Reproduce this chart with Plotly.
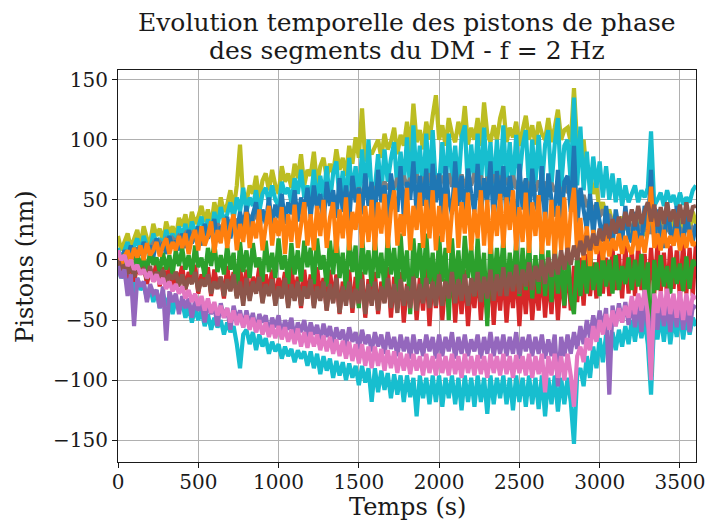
import plotly.graph_objects as go

# Time stamps (s), one sample every 20 s
temps = list(range(0, 3601, 20))

# Piston values (nm), per segment colour (20 values per 400 s)
olive = [20, 8, 15, 22, 10, 18, 25, 12, 28, 18, 14, 30, 20, 26, 15, 32, 22, 28, 18, 35,
         28, 38, 24, 40, 30, 36, 45, 32, 42, 28, 48, 36, 52, 40, 46, 58, 42, 62, 96, 50,
         48, 62, 55, 70, 50, 66, 72, 58, 75, 62, 55, 78, 65, 72, 60, 80, 68, 88, 62, 75,
         70, 90, 62, 78, 85, 68, 80, 72, 92, 75, 85, 70, 95, 80, 102, 85, 126, 82, 92, 88,
         95, 100, 85, 105, 92, 98, 110, 88, 104, 95, 115, 90, 130, 98, 108, 92, 115, 100, 120, 137,
         100, 112, 95, 118, 105, 98, 115, 102, 128, 96, 110, 100, 118, 95, 131, 105, 98, 112, 100, 118,
         128, 98, 110, 102, 115, 95, 108, 120, 100, 112, 96, 115, 105, 100, 118, 98, 110, 125, 100, 108,
         110, 98, 143, 95, 85, 100, 70, 75, 55, 62, 40, 48, 35, 42, 30, 38, 28, 36, 25, 34,
         22, 32, 26, 38, 20, 30, 28, 40, 24, 35, 22, 30, 26, 38, 20, 34, 24, 36, 22, 40,
         30]

cyan_haut = [10, 0, 8, 15, 4, 12, 18, 6, 20, 12, 8, 22, 14, 18, 10, 25, 16, 22, 12, 28,
             20, 30, 16, 32, 24, 28, 36, 22, 34, 20, 40, 28, 44, 32, 38, 48, 34, 52, 40, 60,
             40, 52, 45, 58, 40, 55, 60, 48, 62, 50, 45, 65, 55, 60, 48, 68, 55, 75, 52, 62,
             50, 75, 45, 70, 52, 78, 48, 72, 82, 50, 74, 46, 85, 55, 78, 48, 92, 52, 100, 55,
             60, 88, 55, 92, 65, 84, 98, 58, 90, 62, 102, 56, 112, 65, 95, 58, 105, 62, 108, 60,
             62, 98, 58, 105, 68, 95, 60, 102, 112, 58, 96, 65, 105, 60, 110, 66, 98, 58, 100, 64,
             112, 62, 98, 60, 104, 66, 95, 108, 58, 100, 64, 104, 60, 96, 108, 62, 96, 118, 60, 95,
             100, 65, 135, 62, 111, 58, 90, 55, 86, 60, 82, 52, 78, 50, 72, 48, 68, 45, 62, 48,
             55, 62, 48, 58, 52, 60, 107, 45, 50, 56, 45, 58, 48, 54, 44, 56, 46, 52, 48, 58,
             62]

gris = [5, 0, 6, 2, 8, 4, 10, 6, 12, 8, 10, 14, 9, 15, 12, 17, 13, 18, 15, 20,
        18, 22, 17, 24, 20, 25, 21, 27, 23, 28, 24, 30, 26, 31, 27, 33, 28, 34, 30, 35,
        32, 36, 33, 38, 34, 40, 36, 41, 37, 43, 38, 44, 40, 45, 41, 46, 42, 48, 43, 49,
        45, 50, 46, 52, 47, 53, 49, 54, 50, 56, 51, 57, 52, 58, 54, 60, 55, 61, 56, 62,
        57, 64, 58, 65, 59, 66, 60, 68, 62, 70, 60, 68, 62, 71, 60, 69, 62, 72, 61, 70,
        62, 70, 60, 72, 61, 69, 62, 71, 60, 70, 62, 72, 61, 70, 60, 69, 62, 71, 60, 70,
        61, 68, 60, 70, 59, 68, 58, 67, 60, 66, 57, 66, 58, 65, 56, 64, 57, 63, 55, 62,
        56, 60, 52, 58, 48, 54, 44, 50, 40, 46, 36, 42, 34, 38, 30, 36, 28, 34, 26, 32,
        25, 30, 23, 29, 24, 30, 22, 28, 23, 29, 21, 28, 22, 27, 20, 27, 22, 28, 21, 27,
        25]

bleu = [5, -2, 8, 2, 12, 0, 10, 4, 15, 6, 12, 2, 18, 8, 14, 5, 20, 10, 16, 8,
        22, 10, 25, 14, 20, 28, 12, 30, 18, 24, 34, 15, 28, 20, 36, 18, 32, 22, 40, 25,
        45, 22, 38, 48, 25, 42, 30, 52, 28, 46, 35, 55, 30, 48, 38, 58, 32, 52, 40, 60,
        35, 62, 42, 55, 30, 65, 45, 58, 35, 68, 40, 62, 32, 70, 48, 60, 38, 72, 45, 65,
        35, 75, 48, 62, 30, 72, 52, 40, 78, 35, 65, 50, 82, 38, 70, 45, 76, 30, 80, 48,
        72, 30, 78, 50, 38, 82, 45, 70, 32, 76, 55, 40, 80, 35, 68, 48, 82, 30, 74, 45,
        78, 35, 70, 52, 30, 80, 42, 68, 32, 76, 48, 38, 78, 30, 72, 50, 36, 75, 30, 65,
        70, 40, 95, 28, 60, 42, 25, 55, 20, 48, 30, 15, 45, 22, 12, 42, 25, 15, 45, 20,
        15, 40, 22, 12, 45, 25, 75, 15, 42, 20, 10, 48, 25, 12, 45, 18, 10, 44, 22, 15,
        30]

orange = [5, -5, 3, 8, -2, 10, 2, 12, 0, 14, 4, 8, 15, 3, 12, 18, 5, 15, 8, 20,
          10, 22, 5, 18, 25, 8, 28, 12, 20, 32, 6, 25, 14, 35, 10, 28, 38, 8, 30, 15,
          40, 10, 32, 18, 42, 8, 28, 45, 12, 35, 20, 44, 5, 38, 15, 46, 10, 30, 48, 12,
          38, 8, 45, 20, 50, 10, 35, 48, 6, 42, 18, 52, 8, 40, 25, 55, 10, 45, 15, 50,
          8, 48, 22, 55, 10, 42, 58, 12, 38, 20, 60, 8, 45, 25, 56, 10, 50, 18, 58, 8,
          45, 15, 55, 6, 40, 60, 10, 48, 22, 56, 8, 42, 18, 58, 12, 50, 5, 46, 20, 55,
          10, 52, 25, 58, 8, 44, 15, 56, 6, 48, 20, 54, 5, 40, 12, 50, 2, 45, 8, 52,
          0, 40, 60, 5, 35, 0, 28, -5, 25, 5, 20, 0, 22, 3, 18, 8, 22, 5, 20, 10,
          5, 24, 8, 20, 6, 25, 61, 10, 22, 8, 25, 10, 20, 12, 26, 8, 22, 10, 25, 12,
          15]

vert = [2, -8, 5, -5, 0, -10, 6, -6, 3, -12, 8, -4, 2, -10, 6, -8, 4, -12, 8, -5,
        10, -8, 4, -12, 12, -6, 2, -14, 10, -5, 14, -10, 4, -12, 12, -8, 6, -30, 15, -10,
        8, -15, 14, -6, 2, -18, 16, -10, 6, -15, 18, -8, 4, -20, 14, -12, 8, -18, 16, -6,
        10, -20, 18, -8, 4, -22, 16, -12, 20, -15, 6, -25, 18, -10, 12, -40, 20, -12, 8, -22,
        18, -15, 6, -25, 20, -12, 10, -28, 22, -18, 8, -45, 18, -15, 14, -25, 22, -20, 6, -30,
        20, -18, 10, -50, 18, -22, 8, -28, 20, -15, 12, -30, 18, -22, 6, -55, 20, -25, 10, -20,
        18, -28, 6, -22, 16, -30, 10, -25, 15, -32, 4, -28, 14, -30, 8, -35, 12, -28, 2, -38,
        10, -32, -45, 5, -30, 0, -28, 8, -25, -2, -30, 5, -22, 0, -28, 4, -25, -5, -20, 2,
        -25, 0, -22, 5, -28, -2, -97, 0, -25, 4, -22, -5, -28, 2, -20, -3, -26, 3, -24, 0,
        -5]

rouge = [2, -10, -2, -15, 0, -18, -5, -12, -3, -20, -8, -15, -2, -22, -6, -18, -4, -24, -10, -16,
         -5, -25, -10, -18, -4, -28, -12, -20, -6, -30, -8, -22, -14, -32, -5, -25, -10, -30, -6, -28,
         -8, -32, -14, -24, -6, -35, -12, -28, -8, -36, -15, -26, -10, -38, -6, -30, -14, -40, -8, -32,
         -12, -38, -6, -30, -15, -42, -8, -35, -12, -45, -18, -32, -8, -44, -14, -38, -10, -48, -16, -36,
         -10, -45, -18, -35, -6, -48, -14, -40, -10, -52, -20, -38, -8, -50, -15, -42, -6, -55, -12, -40,
         -8, -50, -16, -38, -5, -52, -12, -45, -8, -55, -18, -40, -6, -50, -14, -48, -5, -54, -10, -42,
         -8, -52, -14, -40, -5, -55, -12, -45, -6, -50, -16, -42, -4, -48, -10, -45, -2, -50, -8, -40,
         0, -42, -5, -35, 2, -38, 5, -30, -2, -32, 8, -28, 2, -30, 10, -25, 5, -32, 12, -28,
         8, -30, 12, -25, 5, -32, 10, -28, 14, -26, 6, -30, 12, -24, 8, -32, 15, -28, 10, -30,
         15]

marron = [0, -8, -4, -12, -2, -14, -6, -10, -8, -16, -5, -18, -10, -14, -8, -20, -12, -16, -10, -22,
          -12, -24, -15, -20, -10, -26, -16, -22, -12, -28, -18, -24, -14, -30, -16, -26, -12, -32, -18, -38,
          -15, -34, -18, -28, -14, -36, -20, -30, -16, -38, -22, -32, -15, -40, -20, -34, -18, -38, -22, -32,
          -16, -40, -22, -34, -18, -42, -20, -36, -15, -44, -22, -38, -18, -40, -24, -36, -16, -45, -20, -38,
          -18, -42, -22, -36, -15, -40, -20, -44, -16, -38, -22, -40, -14, -42, -20, -36, -15, -40, -18, -38,
          -12, -38, -18, -32, -10, -36, -16, -34, -12, -38, -15, -30, -10, -35, -14, -32, -8, -34, -12, -30,
          -6, -30, -10, -26, -4, -28, -8, -22, -2, -25, -5, -18, 0, -20, 2, -14, 5, -12, 8, -8,
          10, -4, 12, 0, 16, 4, 20, 8, 22, 12, 26, 16, 30, 18, 34, 22, 36, 25, 40, 28,
          42, 28, 45, 30, 40, 48, 32, 46, 28, 44, 30, 48, 32, 42, 28, 46, 30, 48, 32, 44,
          45]

violet = [-5, -15, -8, -30, -12, -55, -15, -22, -18, -35, -20, -28, -25, -40, -22, -67, -26, -35, -28, -45,
          -30, -40, -32, -48, -34, -42, -36, -52, -35, -45, -38, -55, -36, -48, -40, -58, -38, -50, -42, -56,
          -42, -55, -44, -60, -45, -52, -46, -62, -48, -56, -46, -64, -50, -58, -48, -66, -52, -60, -50, -65,
          -52, -62, -54, -68, -53, -64, -55, -70, -56, -66, -58, -72, -56, -68, -60, -74, -58, -70, -62, -76,
          -60, -72, -62, -78, -60, -74, -64, -80, -62, -76, -64, -82, -62, -78, -66, -80, -62, -76, -64, -82,
          -62, -80, -64, -76, -60, -82, -64, -78, -62, -80, -66, -76, -62, -82, -64, -78, -60, -80, -64, -78,
          -62, -80, -64, -78, -60, -82, -64, -76, -62, -80, -64, -78, -62, -82, -66, -80, -62, -105, -64, -80,
          -62, -78, -60, -74, -55, -70, -50, -65, -46, -60, -42, -58, -40, -112, -38, -55, -36, -52, -35, -54,
          -34, -56, -32, -60, -35, -55, -60, -34, -58, -32, -55, -36, -60, -34, -56, -32, -58, -36, -60, -38,
          -40]

rose = [8, 0, 4, -5, 0, -8, -4, -12, -8, -15, -10, -18, -12, -20, -15, -24, -18, -26, -20, -28,
        -22, -32, -25, -35, -28, -38, -30, -42, -32, -44, -35, -46, -38, -48, -40, -52, -42, -54, -45, -56,
        -46, -58, -48, -60, -50, -62, -52, -64, -54, -65, -55, -66, -56, -68, -58, -70, -57, -72, -60, -73,
        -60, -72, -62, -75, -63, -76, -64, -78, -66, -80, -67, -82, -68, -84, -70, -86, -70, -88, -72, -90,
        -72, -88, -74, -92, -75, -90, -76, -94, -77, -92, -78, -95, -78, -92, -80, -96, -78, -94, -80, -96,
        -78, -94, -80, -96, -78, -95, -80, -98, -78, -94, -80, -96, -79, -95, -80, -98, -78, -94, -80, -96,
        -78, -95, -80, -98, -79, -94, -80, -96, -78, -98, -80, -95, -78, -110, -80, -96, -78, -98, -80, -100,
        -78, -96, -122, -80, -72, -85, -65, -75, -55, -68, -50, -62, -45, -58, -42, -55, -40, -52, -38, -48,
        -30, -45, -28, -42, -25, -45, -100, -28, -44, -26, -46, -24, -45, -28, -48, -26, -50, -28, -46, -30,
        -32]

cyan_bas = [-5, -15, -10, -22, -12, -28, -15, -25, -20, -32, -22, -35, -25, -40, -28, -38, -30, -45, -32, -42,
            -35, -48, -38, -52, -40, -50, -42, -55, -45, -58, -48, -56, -50, -62, -52, -60, -55, -70, -90, -62,
            -58, -70, -60, -75, -62, -72, -65, -78, -68, -76, -70, -82, -72, -80, -74, -85, -75, -82, -76, -88,
            -76, -90, -78, -95, -80, -92, -82, -98, -84, -96, -85, -100, -86, -98, -88, -104, -88, -102, -90, -118,
            -90, -110, -92, -108, -94, -115, -95, -112, -96, -118, -96, -114, -98, -130, -96, -115, -98, -120, -96, -118,
            -96, -122, -98, -115, -96, -120, -98, -125, -96, -118, -98, -122, -96, -118, -98, -128, -96, -120, -98, -115,
            -96, -120, -98, -125, -96, -118, -98, -122, -96, -120, -98, -124, -96, -130, -98, -120, -96, -126, -98, -120,
            -98, -118, -153, -95, -90, -105, -80, -98, -72, -90, -65, -85, -62, -80, -60, -75, -58, -72, -55, -70,
            -50, -68, -48, -65, -50, -70, -112, -48, -66, -46, -68, -45, -70, -48, -64, -45, -66, -46, -62, -48,
            -55]

# Draw order (later on top) and matplotlib tab10 colours
series = [
    (olive, "#bcbd22"),
    (cyan_haut, "#17becf"),
    (gris, "#7f7f7f"),
    (bleu, "#1f77b4"),
    (cyan_bas, "#17becf"),
    (rouge, "#d62728"),
    (vert, "#2ca02c"),
    (orange, "#ff7f0e"),
    (marron, "#8c564b"),
    (violet, "#9467bd"),
    (rose, "#e377c2"),
]

titre_l1 = "Evolution temporelle des pistons de phase"
titre_l2 = "des segments du DM - f = 2 Hz"
xlabel = "Temps (s)"
ylabel = "Pistons (nm)"
xticks = [0, 500, 1000, 1500, 2000, 2500, 3000, 3500]
yticks = [-150, -100, -50, 0, 50, 100, 150]

FONT = "DejaVu Serif"
INK = "#1a1a1a"

fig = go.Figure()
for vals, col in series:
    fig.add_trace(go.Scatter(x=temps, y=vals, mode="lines",
                             line=dict(color=col, width=4.2),
                             showlegend=False, hoverinfo="skip"))

fig.update_layout(
    width=708, height=522,
    margin=dict(l=118, r=12, t=70, b=60, autoexpand=False),
    paper_bgcolor="white", plot_bgcolor="white",
    font=dict(family=FONT, size=20, color=INK),
    annotations=[
        dict(text=titre_l1, x=0.5, y=1.1224, xref="paper", yref="paper",
             xanchor="center", yanchor="middle", showarrow=False,
             font=dict(family=FONT, size=25, color=INK)),
        dict(text=titre_l2, x=0.5, y=1.051, xref="paper", yref="paper",
             xanchor="center", yanchor="middle", showarrow=False,
             font=dict(family=FONT, size=25, color=INK)),
        dict(text=xlabel, x=0.5, y=-0.115, xref="paper", yref="paper",
             xanchor="center", yanchor="middle", showarrow=False,
             font=dict(family=FONT, size=24, color=INK)),
        dict(text=ylabel, x=-0.161, y=0.5, xref="paper", yref="paper",
             xanchor="center", yanchor="middle", showarrow=False, textangle=-90,
             font=dict(family=FONT, size=24, color=INK)),
    ],
)
fig.update_xaxes(range=[0, 3600], tickvals=xticks, automargin=False,
                 showgrid=True, gridcolor="#b0b0b0", gridwidth=1,
                 showline=True, linecolor=INK, linewidth=1.2, mirror=True,
                 ticks="outside", ticklen=5, tickcolor=INK, zeroline=False,
                 ticklabelstandoff=-3,
                 tickfont=dict(family=FONT, size=20, color=INK))
fig.update_yaxes(range=[-168, 158], tickvals=yticks, automargin=False,
                 showgrid=True, gridcolor="#b0b0b0", gridwidth=1,
                 showline=True, linecolor=INK, linewidth=1.2, mirror=True,
                 ticks="outside", ticklen=5, tickcolor=INK, zeroline=False,
                 tickfont=dict(family=FONT, size=20, color=INK))

fig.write_html("out.html", config={"displayModeBar": False})

# remove the browser's default page margin so the figure sits at (0, 0)
with open("out.html", "r", encoding="utf-8") as f:
    page = f.read()
page = page.replace("<head>", "<head><style>html,body{margin:0;padding:0;overflow:hidden;}</style>", 1)
with open("out.html", "w", encoding="utf-8") as f:
    f.write(page)
